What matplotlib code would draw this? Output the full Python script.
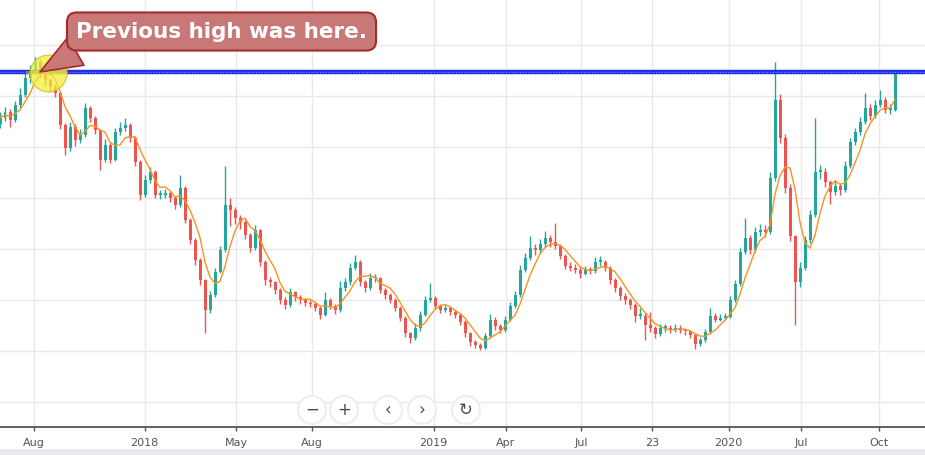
import numpy as np
import pandas as pd
import matplotlib.pyplot as plt
from matplotlib.patches import Circle

# ------------------------------------------------------------
# Data (~5 sessions per bar)
# ------------------------------------------------------------
first_open = 64.5
closes = [
    65.7, 66.9, 65.3, 68.2, 70.2, 73.5, 75.1, 76.7, 74.7, 73.1,
    71.8, 70.6, 64.3, 59.8, 63.9, 61.4, 62.4, 67.6, 65.7, 63.3,
    57.5, 60.4, 57.5, 62.9, 63.7, 64.3, 61.8, 57.1, 50.6, 53.5,
    55.1, 50.6, 50.6, 51.0, 50.0, 48.6, 52.0, 45.7, 41.8, 37.8,
    33.9, 28.0, 31.0, 35.5, 39.8, 48.6, 47.6, 46.1, 45.3, 42.7,
    40.2, 43.7, 37.5, 33.9, 33.5, 32.0, 30.0, 29.0, 31.6, 30.6,
    30.0, 29.4, 29.2, 28.4, 27.1, 30.0, 28.8, 28.0, 32.4, 33.5,
    36.3, 37.5, 33.5, 32.4, 34.3, 34.3, 32.0, 31.0, 30.0, 28.4,
    26.5, 23.5, 22.5, 24.5, 27.1, 30.0, 30.4, 28.8, 28.0, 28.4,
    27.6, 27.1, 25.7, 23.5, 21.8, 21.2, 20.6, 22.9, 26.1, 24.9,
    24.1, 26.1, 28.8, 31.0, 35.9, 38.2, 40.2, 39.8, 41.0, 42.2,
    41.4, 40.6, 38.6, 36.7, 36.3, 35.9, 35.1, 35.9, 35.7, 37.5,
    37.5, 36.3, 33.9, 32.4, 30.8, 30.0, 29.0, 26.9, 26.9, 25.1,
    24.5, 23.3, 24.5, 24.5, 24.1, 24.5, 24.1, 23.9, 23.1, 21.4,
    22.2, 23.7, 26.9, 26.1, 26.5, 26.7, 30.0, 33.1, 39.4, 42.2,
    39.8, 43.3, 43.7, 43.3, 53.9, 69.2, 61.8, 52.0, 42.5, 33.5,
    36.3, 41.8, 46.7, 55.1, 55.1, 53.1, 51.2, 52.4, 51.6, 56.3,
    61.0, 62.9, 64.9, 67.6, 66.1, 68.2, 69.2, 67.3, 67.3, 74.3,
]
highs = [
    66.8, 67.8, 67.5, 69.0, 71.5, 74.8, 76.0, 77.6, 77.2, 75.2,
    73.6, 72.3, 70.8, 64.6, 64.8, 64.5, 63.5, 68.6, 68.0, 66.0,
    63.6, 61.5, 60.8, 63.8, 64.8, 65.7, 64.6, 62.2, 57.4, 54.5,
    56.0, 55.4, 51.6, 51.8, 51.4, 50.4, 54.5, 52.3, 46.0, 42.2,
    38.2, 34.2, 31.8, 36.2, 40.6, 56.3, 50.0, 48.2, 46.6, 45.6,
    43.2, 44.6, 44.0, 37.8, 34.6, 33.8, 32.4, 30.5, 32.4, 31.8,
    31.0, 30.4, 30.0, 29.6, 28.8, 31.6, 30.4, 29.2, 33.8, 34.4,
    37.2, 38.8, 37.8, 34.0, 35.2, 35.0, 34.6, 32.4, 31.4, 30.4,
    28.8, 26.8, 23.8, 25.4, 27.8, 30.8, 33.3, 30.8, 29.2, 29.0,
    28.8, 28.0, 27.4, 26.0, 23.8, 22.2, 21.6, 23.6, 27.2, 26.6,
    25.2, 26.8, 29.6, 31.8, 36.8, 39.2, 42.6, 41.0, 42.0, 43.6,
    42.8, 45.1, 41.0, 39.0, 37.4, 37.0, 36.4, 36.6, 36.4, 38.4,
    38.6, 37.8, 36.6, 34.4, 32.8, 31.4, 30.4, 29.4, 28.4, 27.4,
    27.6, 24.8, 25.2, 25.2, 25.0, 25.2, 25.0, 24.6, 24.2, 23.4,
    22.8, 24.4, 28.4, 27.4, 27.2, 27.4, 30.8, 34.0, 40.2, 46.1,
    42.8, 44.4, 44.8, 44.6, 55.0, 76.7, 70.4, 62.6, 52.8, 42.8,
    37.4, 42.6, 47.6, 65.7, 56.4, 55.8, 53.6, 53.4, 53.0, 57.2,
    61.8, 63.8, 65.8, 70.6, 68.4, 69.2, 71.2, 69.8, 68.4, 74.7,
]
lows = [
    63.8, 65.0, 64.0, 64.8, 67.6, 69.8, 72.6, 74.5, 73.8, 72.0,
    70.8, 69.8, 63.5, 58.5, 59.2, 60.2, 60.8, 62.0, 64.8, 62.5,
    55.5, 57.0, 56.8, 57.2, 62.3, 63.2, 61.0, 56.3, 49.6, 50.2,
    53.0, 50.0, 49.8, 50.0, 49.3, 47.8, 48.3, 45.0, 41.0, 36.8,
    33.0, 23.5, 27.5, 30.6, 35.2, 39.5, 44.5, 44.8, 44.0, 42.0,
    39.4, 39.8, 36.6, 33.0, 32.6, 31.2, 29.2, 28.2, 28.6, 29.8,
    29.2, 28.8, 28.6, 27.8, 26.2, 26.8, 28.2, 27.2, 27.6, 31.8,
    33.0, 35.8, 32.8, 31.6, 32.0, 33.6, 31.4, 30.2, 29.4, 27.8,
    25.8, 22.8, 21.6, 22.2, 24.0, 26.8, 29.6, 28.2, 27.4, 27.6,
    27.0, 26.4, 25.0, 22.8, 21.0, 20.6, 20.2, 20.4, 22.6, 24.2,
    23.5, 23.8, 25.8, 28.4, 30.6, 35.4, 37.8, 38.8, 39.2, 40.4,
    40.4, 40.0, 38.0, 36.0, 35.6, 35.2, 34.4, 34.8, 35.0, 35.2,
    36.6, 35.6, 33.2, 31.6, 30.0, 29.2, 28.2, 25.7, 26.2, 22.2,
    23.8, 22.6, 23.0, 23.8, 23.6, 23.8, 23.6, 23.2, 22.6, 20.4,
    21.0, 21.8, 23.4, 25.6, 25.8, 26.0, 26.4, 29.6, 32.8, 39.0,
    39.0, 39.4, 42.6, 42.4, 43.0, 53.4, 60.8, 51.0, 41.6, 25.1,
    32.6, 35.8, 41.2, 46.2, 53.8, 52.2, 48.8, 50.6, 50.6, 51.2,
    55.8, 60.4, 62.4, 64.4, 65.2, 65.6, 67.8, 66.6, 66.4, 67.0,
]

tick_labels = ['Aug', '2018', 'May', 'Aug', '2019', 'Apr', 'Jul', '23', '2020', 'Jul', 'Oct']
tick_bars = [6.7, 28.9, 47.2, 62.3, 86.7, 101.2, 116.2, 130.4, 145.7, 160.2, 175.8]

previous_high = 74.7       # level of the blue horizontal line
ma_window = 5

# ------------------------------------------------------------
# Derived series
# ------------------------------------------------------------
closes = np.array(closes)
highs = np.array(highs)
lows = np.array(lows)
opens = np.r_[first_open, closes[:-1]]
xs = np.arange(len(closes))
ma = pd.Series(closes).rolling(ma_window, min_periods=1).mean()

up_col = '#26a69a'
dn_col = '#ef5350'
cols = np.where(closes >= opens, up_col, dn_col)

# ------------------------------------------------------------
# Figure
# ------------------------------------------------------------
W, H = 925, 455
fig = plt.figure(figsize=(W / 100, H / 100), dpi=100)
ax = fig.add_axes([0, 28 / H, 1, 1 - 28 / H])

ax.vlines(xs, lows, highs, colors=cols, lw=1.0, zorder=3)
body_lo = np.minimum(opens, closes)
body_h = np.maximum(np.abs(closes - opens), 0.3)
ax.bar(xs, body_h, bottom=body_lo, width=0.6, color=cols, lw=0, zorder=3)
ax.plot(xs, ma, color='#f7931e', lw=1.0, zorder=4)

ax.set_xlim(0, W / 5)
ax.set_ylim(5.1, 88.8)

# grid
ax.set_yticks(np.arange(10, 90, 10))
ax.set_xticks(tick_bars)
ax.set_xticklabels(tick_labels)
ax.grid(True, color='#e6e9ef', lw=1.0, zorder=0)
ax.tick_params(axis='y', left=False, labelleft=False)
ax.tick_params(axis='x', length=3, width=1, color='#555555', labelsize=8,
               labelcolor='#555555', pad=5)
for s in ['left', 'right', 'top']:
    ax.spines[s].set_visible(False)
ax.spines['bottom'].set_color('#50535e')
ax.spines['bottom'].set_linewidth(1.3)

# previous-high line
ax.axhline(previous_high, color='#1f2fe6', lw=3.2, zorder=5)
ax.axhline(previous_high, color='#7d88ff', lw=0.8, ls=(0, (1, 1.5)), zorder=6)

# highlight of the old peak
hi_bar = int(np.argmax(highs[:20]))
ax.plot([hi_bar - 1.6, hi_bar + 6.0], [previous_high, previous_high],
        color='#7a8a78', lw=2.2, zorder=6)
ax.scatter([hi_bar + 2.6], [previous_high - 0.3], s=700, color='#f4ee3a',
           alpha=0.75, edgecolors='#c9c230', linewidths=1, zorder=7)

ax.annotate('Previous high was here.', xy=(hi_bar + 1, previous_high),
            xytext=(221.5, 423.5), textcoords='figure pixels',
            ha='center', va='center', fontsize=15.5, fontweight='bold',
            color='white', zorder=10,
            bbox=dict(boxstyle='round,pad=0.42,rounding_size=0.45',
                      fc='#c97878', ec='#a52a2a', lw=1.5),
            arrowprops=dict(arrowstyle='wedge,tail_width=1.5,shrink_factor=0.5',
                            fc='#c97878', ec='#a52a2a', lw=1.2,
                            relpos=(0.06, 0.02), shrinkA=0, shrinkB=0))

# ------------------------------------------------------------
# Overlay: bottom band and navigation buttons
# ------------------------------------------------------------
ov = fig.add_axes([0, 0, 1, 1], zorder=20)
ov.set_xlim(0, W)
ov.set_ylim(H, 0)
ov.axis('off')
ov.axhspan(449, H, color='#e9ebf1', lw=0)

buttons = ['\u2212', '+', '\u2039', '\u203a', '\u21bb']
button_x = [312, 344, 388, 422, 466]
for bx, sym in zip(button_x, buttons):
    ov.add_patch(Circle((bx, 410), 14, fc='white', ec='#eceef2', lw=1.5))
    ov.text(bx, 410, sym, ha='center', va='center', fontsize=12,
            color='#4a4a4a')

fig.savefig('out.png', dpi=100)
